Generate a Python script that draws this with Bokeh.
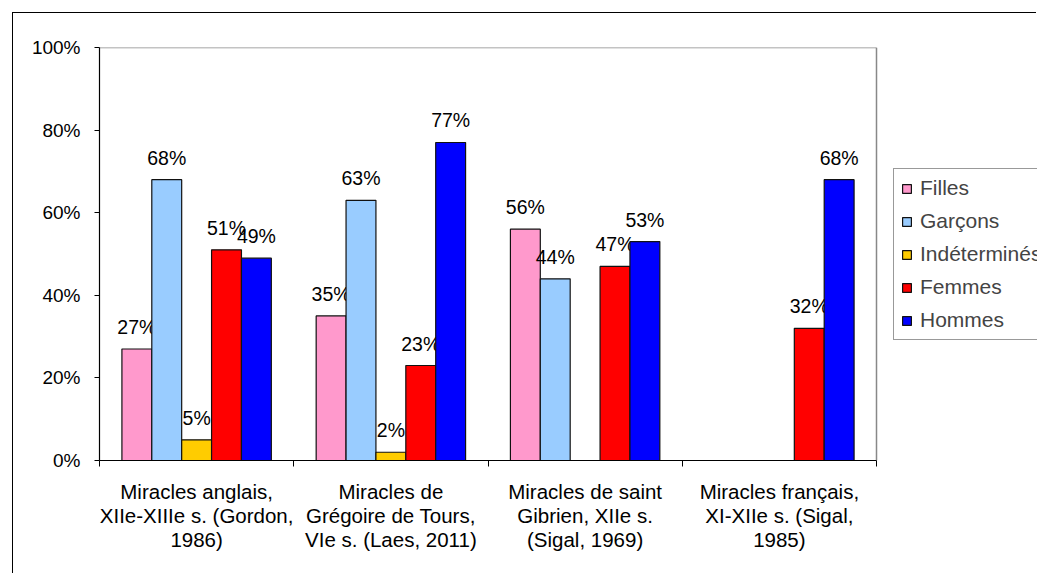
from bokeh.plotting import figure
from bokeh.models import (Range1d, FixedTicker, PrintfTickFormatter, ColumnDataSource,
                          Legend, LegendItem, LinearAxis)
from bokeh.core.properties import value
from bokeh.embed import file_html
from bokeh.resources import INLINE

categories = [
    "Miracles anglais,\nXIIe-XIIIe s. (Gordon,\n1986)",
    "Miracles de\nGrégoire de Tours,\nVIe s. (Laes, 2011)",
    "Miracles de saint\nGibrien, XIIe s.\n(Sigal, 1969)",
    "Miracles français,\nXI-XIIe s. (Sigal,\n1985)",
]
series_names = ["Filles", "Garçons", "Indéterminés", "Femmes", "Hommes"]
filles = [27, 35, 56, None]
garcons = [68, 63, 44, None]
indetermines = [5, 2, None, None]
femmes = [51, 23, 47, 32]
hommes = [49, 77, 53, 68]
colors = ["#FF99CC", "#99CCFF", "#FFCC00", "#FF0000", "#0000FF"]
y_ticks = [0, 20, 40, 60, 80, 100]

FONT = "Liberation Sans"

W, H = 1024, 561
LEFT, TOP, BOTTOM = 86, 34, 447
PLOT_W = 777                     # width in px of the plotting area (4 categories)
n_cat = len(categories)
frame_w = W - LEFT
x_end = n_cat * frame_w / PLOT_W

p = figure(width=W, height=H, output_backend="svg", toolbar_location=None,
           x_range=Range1d(0, x_end), y_range=Range1d(0, 100),
           min_border_left=LEFT, min_border_right=0,
           min_border_top=TOP, min_border_bottom=H - BOTTOM)
p.margin = (12, 0, 0, 12)
p.styles = {"border-top": "1px solid #000000", "border-left": "1px solid #000000"}
p.background_fill_color = "white"
p.border_fill_color = "white"
p.outline_line_color = None
p.xgrid.visible = False
p.ygrid.visible = False

# plot-area border (top and right, grey)
p.segment(x0=[0, n_cat], y0=[100, 0], x1=[n_cat, n_cat], y1=[100, 100],
          line_color="#888888", line_width=1.5)

# y axis
p.yaxis.ticker = FixedTicker(ticks=y_ticks)
p.yaxis.formatter = PrintfTickFormatter(format="%d%%")
p.yaxis.major_tick_out = 5
p.yaxis.major_tick_in = 0
p.yaxis.minor_tick_line_color = None
p.yaxis.major_label_standoff = 14
p.yaxis.major_label_text_font = FONT
p.yaxis.major_label_text_font_size = "19px"
p.yaxis.major_label_text_color = "black"
p.yaxis.axis_line_color = "black"
p.yaxis.axis_line_width = 1.2
p.yaxis.major_tick_line_color = "black"

# x axis: category boundary ticks
p.xaxis.ticker = FixedTicker(ticks=list(range(n_cat + 1)))
p.xaxis.bounds = (0, n_cat)
p.xaxis.major_label_overrides = {i: "" for i in range(n_cat + 1)}
p.xaxis.major_label_standoff = 0
p.xaxis.major_tick_out = 6
p.xaxis.major_tick_in = 0
p.xaxis.minor_tick_line_color = None
p.xaxis.axis_line_color = "black"
p.xaxis.major_tick_line_color = "black"

# x axis: category names at centers
centers = [i + 0.5 for i in range(n_cat)]
cat_axis = LinearAxis(ticker=FixedTicker(ticks=centers),
                      major_label_overrides={c: t for c, t in zip(centers, categories)})
cat_axis.axis_line_color = None
cat_axis.major_tick_line_color = None
cat_axis.minor_tick_line_color = None
cat_axis.major_tick_out = 0
cat_axis.major_tick_in = 0
cat_axis.major_label_standoff = 13
cat_axis.major_label_text_font = FONT
cat_axis.major_label_text_font_size = "20.5px"
cat_axis.major_label_text_color = "black"
cat_axis.major_label_text_line_height = 1.05
p.add_layout(cat_axis, "below")

n_series = len(series_names)
gap = 1.5
bw = 1.0 / (n_series + gap)
all_vals = [filles, garcons, indetermines, femmes, hommes]

items = []
for j, (name, vals, col) in enumerate(zip(series_names, all_vals, colors)):
    xs, ys, labs = [], [], []
    for i, v in enumerate(vals):
        if v is None:
            continue
        xs.append(i + gap / 2 * bw + (j + 0.5) * bw)
        ys.append(v)
        labs.append(f"{v}%")
    src = ColumnDataSource(dict(x=xs, top=ys, lab=labs))
    r = p.vbar(x="x", top="top", bottom=0, width=bw, source=src,
               fill_color=col, line_color="#111111", line_width=1.2)
    p.text(x="x", y="top", text="lab", source=src, text_align="center",
           text_baseline="alphabetic", y_offset=-22,
           text_font=value(FONT), text_font_size="19.5px", text_color="black")
    items.append(LegendItem(label=name, renderers=[r]))

legend = Legend(items=items, location=(880 - LEFT, BOTTOM - 327))
legend.label_text_font = FONT
legend.label_text_font_size = "21px"
legend.glyph_width = 11
legend.glyph_height = 11
legend.label_standoff = 8
legend.label_height = 20
legend.spacing = 9
legend.padding = 7
legend.margin = 0
legend.border_line_color = "#333333"
legend.border_line_width = 1
legend.background_fill_color = "white"
legend.background_fill_alpha = 1
p.add_layout(legend, "center")

open("out.html", "w").write(file_html(p, INLINE))
